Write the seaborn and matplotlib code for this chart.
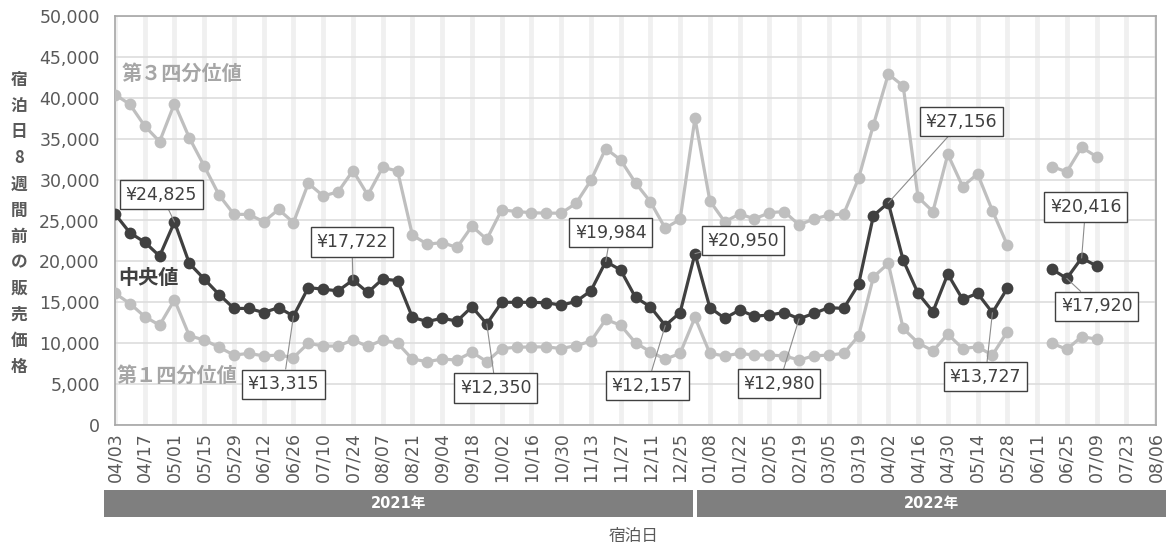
import numpy as np
import pandas as pd
import matplotlib
matplotlib.use('Agg')
import matplotlib.pyplot as plt
import matplotlib.transforms as mtransforms
from matplotlib.patches import Rectangle
import seaborn as sns

# 週次データ（2021/04/03 から、2022/06/04・06/11 は欠測）
START = '2021-04-03'
dates = pd.date_range(START, periods=67, freq='7D')

q3 = [40400, 39200, 36550, 34650, 39300, 35100, 31650, 28100, 25750, 25750, 24850, 26350, 24750,
      29550, 28000, 28500, 31100, 28100, 31500, 31050, 23200, 22100, 22300, 21700, 24300, 22700,
      26300, 26100, 25950, 25900, 25900, 27100, 29900, 33800, 32400, 29600, 27300, 24050, 25150,
      37500, 27400, 24850, 25800, 25200, 25950, 26100, 24450, 25200, 25650, 25800, 30150, 36700, 42900,
      41450, 27850, 26100, 33100, 29150, 30700, 26200, 22000,
      np.nan, np.nan,
      31600, 30950, 33950, 32800]

median = [25800, 23500, 22350, 20650, 24825, 19750, 17850, 15950, 14250, 14250, 13750, 14350, 13315,
          16800, 16600, 16400, 17722, 16200, 17850, 17650, 13150, 12650, 13050, 12700, 14450, 12350,
          15000, 15000, 15000, 14950, 14650, 15100, 16400, 19984, 18950, 15600, 14450, 12157, 13750,
          20950, 14350, 13050, 14050, 13300, 13450, 13750, 12980, 13650, 14350, 14250, 17200, 25600, 27156,
          20150, 16100, 13850, 18450, 15350, 16100, 13727, 16700,
          np.nan, np.nan,
          19050, 17920, 20416, 19450]

q1 = [16100, 14850, 13250, 12200, 15300, 10900, 10400, 9500, 8550, 8750, 8450, 8550, 8250,
      10000, 9650, 9650, 10400, 9600, 10400, 10000, 8050, 7750, 8050, 7950, 8900, 7750,
      9350, 9500, 9550, 9550, 9350, 9700, 10250, 12900, 12200, 10050, 8950, 8050, 8750,
      13150, 8750, 8450, 8750, 8550, 8550, 8450, 7950, 8450, 8550, 8750, 10900, 18100, 19750,
      11800, 10050, 9050, 11100, 9350, 9550, 8550, 11400,
      np.nan, np.nan,
      10000, 9250, 10800, 10500]

tick_dates = pd.date_range(START, '2022-08-06', freq='14D')
years = ['2021年', '2022年']
year_split = pd.Timestamp('2022-01-01')

# ラベルを付ける中央値の週（位置の調整は下で）
label_idx = [4, 12, 16, 25, 33, 37, 39, 46, 52, 59, 65, 64]

df = pd.DataFrame({'date': dates, '第３四分位値': q3, '中央値': median, '第１四分位値': q1})
df['week'] = (df['date'] - df['date'][0]).dt.days / 7
df['seg'] = df['中央値'].isna().cumsum()
long = df.melt(id_vars=['date', 'week', 'seg'], var_name='series', value_name='price').dropna()

sns.set_style('white')
plt.rcParams['font.family'] = ['DejaVu Sans', 'Noto Sans CJK JP']
cjk = ['Noto Sans CJK JP', 'DejaVu Sans']

fig = plt.figure(figsize=(11.68, 5.49), dpi=100)
ax = fig.add_axes([115 / 1168, 1 - 425 / 549, 1041 / 1168, 409 / 549])

light = '#BFBFBF'
dark = '#404040'
for name, color in [('第３四分位値', light), ('第１四分位値', light), ('中央値', dark)]:
    sns.lineplot(data=long[long['series'] == name], x='week', y='price', units='seg',
                 estimator=None, color=color, lw=2.3, marker='o', markersize=8.5,
                 markeredgewidth=0, ax=ax, legend=False, zorder=3)

tick_weeks = (tick_dates - dates[0]).days / 7
ax.set_xlim(0, tick_weeks[-1])
ax.set_ylim(0, 50000)
ax.set_xticks(tick_weeks)
ax.set_xticklabels(tick_dates.strftime('%m/%d'), rotation=90)
ax.set_yticks(np.arange(0, 50001, 5000))
ax.yaxis.set_major_formatter(matplotlib.ticker.FuncFormatter(lambda v, p: f'{int(v):,}'))
ax.tick_params(axis='both', length=0, labelsize=12.5, labelcolor='#595959')
ax.tick_params(axis='y', pad=11)
ax.tick_params(axis='x', pad=5)
ax.set_xlabel('')
ax.set_ylabel('')
ax.xaxis.grid(True, color='#F0F0F0', lw=3.5)
ax.yaxis.grid(True, color='#DDDDDD', lw=1.2)
ax.set_axisbelow(True)
for s in ax.spines.values():
    s.set_color('#A6A6A6')
    s.set_linewidth(1.2)

# 値ラベル
offsets = {4: (-13, 27), 12: (-10, -68), 16: (-1, 38), 25: (9, -64), 33: (5, 29),
           37: (-18, -60), 39: (48, 13), 46: (-20, -65), 52: (73, 81), 59: (-7, -64),
           65: (4, 51), 64: (30, -28)}
for i in label_idx:
    ax.annotate(f'¥{median[i]:,.0f}', xy=(df['week'][i], median[i]), xytext=offsets[i],
                textcoords='offset pixels', ha='center', va='center', fontsize=12.5,
                color=dark, zorder=5,
                bbox=dict(boxstyle='square,pad=0.32', fc='white', ec='#404040', lw=1),
                arrowprops=dict(arrowstyle='-', color='#8C8C8C', lw=0.8,
                                shrinkA=0, shrinkB=0))

# 系列名
ax.text(122 / 1168, 1 - 73 / 549, '第３四分位値', transform=fig.transFigure, family=cjk,
        fontsize=14.5, fontweight='bold', color='#A6A6A6', va='center', ha='left')
ax.text(118 / 1168, 1 - 277 / 549, '中央値', transform=fig.transFigure, family=cjk,
        fontsize=14.5, fontweight='bold', color=dark, va='center', ha='left')
ax.text(117 / 1168, 1 - 375 / 549, '第１四分位値', transform=fig.transFigure, family=cjk,
        fontsize=14.5, fontweight='bold', color='#A6A6A6', va='center', ha='left')

# 縦書きの軸タイトル
ylabel = '宿泊日8週間前の販売価格'
for k, ch in enumerate(ylabel):
    fig.text(19 / 1168, 1 - (80 + k * 26.1) / 549, ch, family=cjk, fontsize=12,
             fontweight='bold', color='#595959', ha='center', va='center')

# 年の帯
split = (year_split - dates[0]).days / 7
trans = mtransforms.blended_transform_factory(ax.transData, fig.transFigure)
bands = [(-0.75, split - 0.15), (split + 0.15, tick_weeks[-1] + 0.65)]
for (x0, x1), label in zip(bands, years):
    fig.add_artist(Rectangle((x0, 1 - 517 / 549), x1 - x0, 27 / 549, transform=trans,
                             fc='#7F7F7F', ec='none'))
    fig.text((x0 + x1) / 2, 1 - 503.5 / 549, label, transform=trans, family=['DejaVu Sans', 'Noto Sans CJK JP'],
             fontsize=10.5, fontweight='bold', color='white', ha='center', va='center')

fig.text(634 / 1168, 1 - 537 / 549, '宿泊日', family=cjk, fontsize=12, color='#595959',
         ha='center', va='center')

fig.savefig('out.png', dpi=100)
